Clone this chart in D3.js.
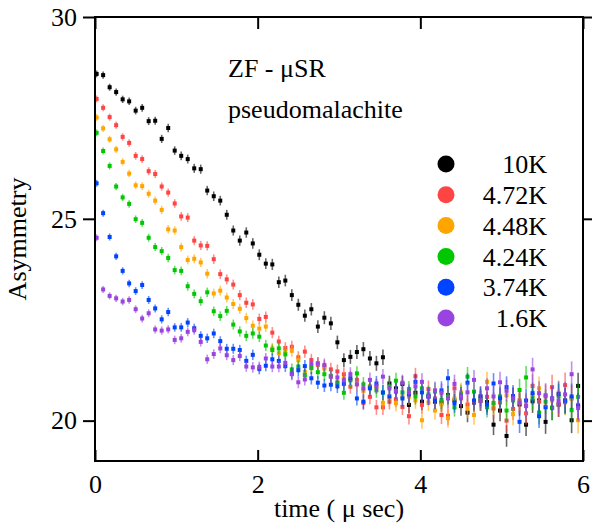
<!DOCTYPE html>
<html>
<head>
<meta charset="utf-8">
<script src="https://cdn.jsdelivr.net/npm/d3@7/dist/d3.min.js"></script>
<style>
  html, body { margin: 0; padding: 0; background: #fff; }
  svg { display: block; font-family: "Liberation Serif", "Times New Roman", serif; }
</style>
</head>
<body>
<svg id="chart" width="592" height="524"></svg>
<script>
// ---------- DATA ----------
const times = [0.02,0.10,0.18,0.26,0.34,0.42,0.50,0.58,0.66,0.74,0.82,0.90,0.98,1.06,1.14,1.22,1.30,1.38,1.46,1.54,
  1.62,1.70,1.78,1.86,1.94,2.02,2.10,2.18,2.26,2.34,2.42,2.50,2.58,2.66,2.74,2.82,2.90,2.98,3.06,3.14,
  3.22,3.30,3.38,3.46,3.54,3.62,3.70,3.78,3.86,3.94,4.02,4.10,4.18,4.26,4.34,4.42,4.50,4.58,4.66,4.74,
  4.82,4.90,4.98,5.06,5.14,5.22,5.30,5.38,5.46,5.54,5.62,5.70,5.78,5.86,5.94];

const errors = [0.085,0.087,0.088,0.090,0.091,0.093,0.095,0.096,0.098,0.100,0.102,0.104,0.106,0.108,0.110,0.112,0.114,0.116,0.118,0.120,
  0.122,0.124,0.127,0.129,0.131,0.134,0.136,0.139,0.141,0.144,0.147,0.149,0.152,0.155,0.158,0.161,0.164,0.167,0.170,0.173,
  0.176,0.179,0.183,0.186,0.190,0.193,0.197,0.200,0.204,0.207,0.211,0.215,0.219,0.223,0.227,0.231,0.236,0.240,0.244,0.249,
  0.253,0.258,0.263,0.267,0.272,0.277,0.282,0.288,0.293,0.298,0.304,0.309,0.315,0.320,0.326];

const labels = ["10K", "4.72K", "4.48K", "4.24K", "3.74K", "1.6K"];
const colors = ["#000000", "#ff4444", "#ffa500", "#00c800", "#0044ff", "#9944e0"];

const a10K = [28.59,28.56,28.26,28.14,27.96,27.91,27.68,27.75,27.42,27.43,26.98,27.25,26.69,26.56,26.48,26.25,26.23,25.70,25.56,25.45,
  25.10,24.71,24.46,24.66,24.39,24.11,23.89,23.87,23.43,23.47,23.11,22.87,22.60,22.76,22.33,22.55,22.41,21.94,21.50,21.58,
  21.70,21.77,21.54,21.42,21.57,20.92,20.80,20.91,20.39,20.69,20.47,20.60,20.47,20.45,20.63,20.50,20.36,20.20,20.45,20.49,
  20.46,19.90,20.25,19.62,20.55,20.40,19.90,20.48,20.50,19.97,20.32,20.40,20.50,20.01,20.86];

const a472K = [27.97,27.75,27.52,27.32,27.03,26.88,26.56,26.48,26.18,26.11,25.80,25.65,25.38,25.06,25.03,24.46,24.34,24.33,24.00,23.63,
  23.50,23.37,23.11,22.92,22.88,22.52,22.57,22.18,21.96,21.80,21.83,21.57,21.71,21.50,21.38,21.34,21.27,21.22,21.15,20.84,
  21.01,20.44,20.59,20.33,20.33,20.47,20.53,20.34,20.11,21.10,20.39,20.78,20.55,20.14,20.12,20.80,20.55,20.40,20.47,20.60,
  20.59,20.30,20.45,20.00,20.29,20.50,20.18,20.86,20.47,20.60,20.83,20.40,20.88,20.55,20.39];

const a448K = [27.51,27.24,26.97,26.72,26.41,26.12,25.83,25.81,25.62,25.45,25.22,24.74,24.71,24.30,23.98,24.01,23.92,23.64,23.15,23.22,
  23.05,22.89,22.77,22.54,22.35,22.28,22.33,21.79,21.67,21.72,21.73,21.50,21.21,21.30,21.42,21.29,21.09,20.95,21.05,21.02,
  20.90,20.74,20.85,20.84,20.44,20.55,20.43,20.60,20.59,20.50,20.01,20.45,20.25,20.40,20.06,20.55,20.70,20.30,20.14,20.50,
  20.96,20.39,20.55,20.63,20.16,20.45,20.40,20.63,20.80,20.35,20.50,20.69,20.45,20.55,20.01];

const a424K = [27.13,26.68,26.31,25.80,25.53,25.37,24.99,24.90,24.53,24.30,24.20,24.03,23.73,23.71,23.33,23.14,22.96,23.18,22.71,22.59,
  22.72,22.38,22.21,22.10,22.16,22.08,21.86,21.75,21.79,21.64,21.27,21.34,21.13,21.31,21.20,21.15,21.11,20.94,20.69,21.00,
  21.17,20.90,20.84,20.75,20.69,20.85,20.99,20.70,20.78,20.60,20.80,20.65,20.72,20.51,20.60,20.33,20.65,21.09,20.72,20.55,
  20.33,20.44,20.60,20.25,20.50,20.76,21.07,20.55,20.20,20.47,20.31,20.60,20.47,20.26,20.59];

const a374K = [25.88,25.14,24.55,24.07,23.71,23.40,23.21,23.36,22.99,22.78,22.51,22.69,22.31,22.31,22.43,22.29,22.10,22.04,22.16,21.97,
  21.78,21.78,21.75,21.48,21.63,21.28,21.36,21.52,21.48,21.35,21.17,21.25,21.35,21.05,20.94,20.87,20.89,20.85,20.91,21.05,
  20.55,20.47,20.80,20.92,20.70,20.60,20.72,20.55,20.65,20.96,20.70,20.60,20.50,20.75,21.05,20.43,20.60,20.94,20.50,20.60,
  20.40,20.92,20.55,20.83,20.61,19.97,20.50,20.68,20.11,20.33,20.55,20.66,20.49,20.60,20.36];

const a16K = [24.53,23.25,23.09,23.03,22.95,22.99,22.76,22.53,22.66,22.26,22.23,22.26,22.00,22.04,22.20,22.24,21.95,21.52,21.65,21.79,
  21.62,21.50,21.60,21.34,21.32,21.33,21.54,21.34,21.34,21.43,21.15,20.95,21.02,21.40,21.42,21.38,21.09,21.07,21.00,21.15,
  20.90,20.80,21.01,20.85,21.09,20.80,20.74,20.94,20.70,20.85,20.96,20.60,20.75,20.69,20.55,20.91,20.60,20.70,21.01,20.50,
  20.80,20.60,20.95,20.74,20.55,20.45,20.36,21.27,20.68,20.63,20.55,20.49,20.65,21.15,20.31];

const seriesValues = [a10K, a472K, a448K, a424K, a374K, a16K];

const xTicks = [0, 2, 4, 6];
const yTicks = [20, 25, 30];

// ---------- LAYOUT ----------
const svg = d3.select("#chart");
const L = 95, R = 583, T = 17, B = 461;
const x = d3.scaleLinear().domain([0, 6]).range([L, R]);
const y = d3.scaleLinear().domain([19, 30]).range([B, T]);
const FS = 26;

// data points
const plot = svg.append("g");
seriesValues.forEach((vals, si) => {
  const pts = vals.map((v, i) => ({ t: times[i], v: v, e: errors[i] }));
  const g = plot.append("g").attr("fill", colors[si]).attr("stroke", colors[si]);
  g.selectAll("line").data(pts).join("line")
    .attr("x1", d => x(d.t)).attr("x2", d => x(d.t))
    .attr("y1", d => y(d.v - d.e)).attr("y2", d => y(d.v + d.e))
    .attr("stroke-width", 1.6).attr("stroke-opacity", 0.6);
  g.selectAll("rect").data(pts).join("rect")
    .attr("x", d => x(d.t) - 2).attr("y", d => y(d.v) - 2)
    .attr("width", 4).attr("height", 4).attr("stroke", "none");
});

// axes
function styleAxis(g) {
  g.select(".domain").remove();
  g.selectAll(".tick line").attr("stroke", "#000").attr("stroke-width", 2);
  g.selectAll(".tick text").attr("font-size", FS).attr("fill", "#000")
    .attr("font-family", "'Liberation Serif', 'Times New Roman', serif");
}
svg.append("g").attr("transform", `translate(${L},0)`)
  .call(d3.axisLeft(y).tickValues(yTicks).tickSize(12).tickPadding(6).tickFormat(d3.format("d")))
  .call(styleAxis);
svg.append("g").attr("transform", `translate(${R},0)`)
  .call(d3.axisRight(y).tickValues(yTicks).tickSize(12).tickFormat(""))
  .call(styleAxis);
svg.append("g").attr("transform", `translate(0,${B})`)
  .call(d3.axisBottom(x).tickValues(xTicks).tickSize(-11).tickPadding(14).tickFormat(d3.format("d")))
  .call(styleAxis);
svg.append("g").attr("transform", `translate(0,${T})`)
  .call(d3.axisTop(x).tickValues(xTicks).tickSize(-12).tickFormat(""))
  .call(styleAxis);

// frame
svg.append("rect").attr("x", L).attr("y", T).attr("width", R - L).attr("height", B - T)
  .attr("fill", "none").attr("stroke", "#000").attr("stroke-width", 2);

// axis titles
svg.append("text").attr("x", (L + R) / 2).attr("y", 517).attr("text-anchor", "middle")
  .attr("font-size", FS).text("time ( μ sec)");
svg.append("text").attr("transform", `translate(26,${(T + B) / 2}) rotate(-90)`)
  .attr("text-anchor", "middle").attr("font-size", FS).text("Asymmetry");

// annotations
svg.append("text").attr("x", 228).attr("y", 77).attr("font-size", FS).text("ZF - μSR");
svg.append("text").attr("x", 228).attr("y", 118).attr("font-size", FS).text("pseudomalachite");

// legend
const leg = svg.append("g");
labels.forEach((lab, i) => {
  const cy = 164 + i * 30.8;
  leg.append("circle").attr("cx", 446).attr("cy", cy).attr("r", 8.5).attr("fill", colors[i]);
  leg.append("text").attr("x", 547).attr("y", cy).attr("dy", "0.35em")
    .attr("text-anchor", "end").attr("font-size", FS).text(lab);
});
</script>
</body>
</html>
